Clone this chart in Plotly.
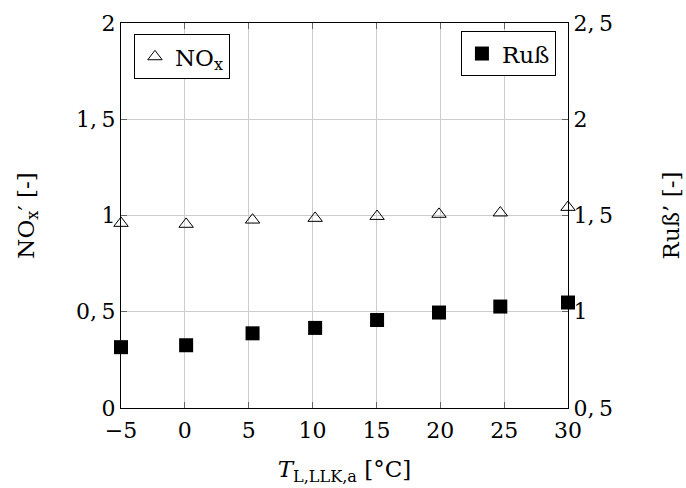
import plotly.graph_objects as go

temps = [-5, 0.1, 5.3, 10.2, 15.05, 19.9, 24.7, 30]
nox = [0.96, 0.955, 0.977, 0.986, 0.996, 1.007, 1.014, 1.043]
temps_russ = [-5, 0.1, 5.3, 10.2, 15.05, 19.9, 24.7, 30]
russ = [0.816, 0.826, 0.888, 0.916, 0.957, 0.996, 1.027, 1.048]

x_ticks = [-5, 0, 5, 10, 15, 20, 25, 30]
x_ticktext = ["\u22125", "0", "5", "10", "15", "20", "25", "30"]
y_ticks = [0, 0.5, 1, 1.5, 2]
y_ticktext = ["0", "0,\u20095", "1", "1,\u20095", "2"]
y2_ticks = [0.5, 1, 1.5, 2, 2.5]
y2_ticktext = ["0,\u20095", "1", "1,\u20095", "2", "2,\u20095"]

FONT = "DejaVu Serif"
TS = 22

fig = go.Figure()
fig.add_trace(go.Scatter(
    x=temps, y=nox, mode="markers", name="NO<sub>x</sub>",
    marker=dict(symbol="triangle-up-open", size=12.5, color="black",
                line=dict(width=1, color="black")),
    cliponaxis=False, legend="legend",
))
fig.add_trace(go.Scatter(
    x=temps_russ, y=russ, mode="markers", name="Ruß", yaxis="y2",
    marker=dict(symbol="square", size=14, color="black",
                line=dict(width=0)),
    cliponaxis=False, legend="legend2",
))

axis_common = dict(
    showline=True, linecolor="black", linewidth=1.3,
    ticks="inside", ticklen=6, tickcolor="#666", tickwidth=1,
    zeroline=False, automargin=False,
    tickfont=dict(family=FONT, size=TS, color="black"),
)

fig.update_layout(
    width=686, height=488,
    margin=dict(l=121, r=118, t=23, b=80, autoexpand=False),
    paper_bgcolor="white", plot_bgcolor="white",
    font=dict(family=FONT, size=TS, color="black"),
    xaxis=dict(
        range=[-5, 30], tickvals=x_ticks, ticktext=x_ticktext,
        showgrid=True, gridcolor="#cccccc", gridwidth=1,
        mirror="ticks", ticklabelstandoff=2,
        title=dict(text="<i>T</i><sub>L,LLK,a</sub> [°C]", standoff=19,
                   font=dict(family=FONT, size=23)),
        **axis_common,
    ),
    yaxis=dict(
        range=[0, 2], tickvals=y_ticks, ticktext=y_ticktext,
        showgrid=True, gridcolor="#cccccc", gridwidth=1,
        mirror="ticks",
        title=dict(text="NO<sub>x</sub>′ [-]", standoff=35,
                   font=dict(family=FONT, size=23)),
        **axis_common,
    ),
    yaxis2=dict(
        range=[0.5, 2.5], tickvals=y2_ticks, ticktext=y2_ticktext,
        overlaying="y", side="right", showgrid=False,
        title=dict(text="Ruß’ [-]", standoff=50,
                   font=dict(family=FONT, size=23)),
        **axis_common,
    ),
    legend=dict(
        x=0.029, y=0.971, xanchor="left", yanchor="top",
        bordercolor="black", borderwidth=1, bgcolor="white",
        font=dict(family=FONT, size=23), itemwidth=30,
        tracegroupgap=0,
    ),
    legend2=dict(
        x=0.973, y=0.979, xanchor="right", yanchor="top",
        bordercolor="black", borderwidth=1, bgcolor="white",
        font=dict(family=FONT, size=23), itemwidth=30,
    ),
    showlegend=True,
)

fig.write_html("out.html")
